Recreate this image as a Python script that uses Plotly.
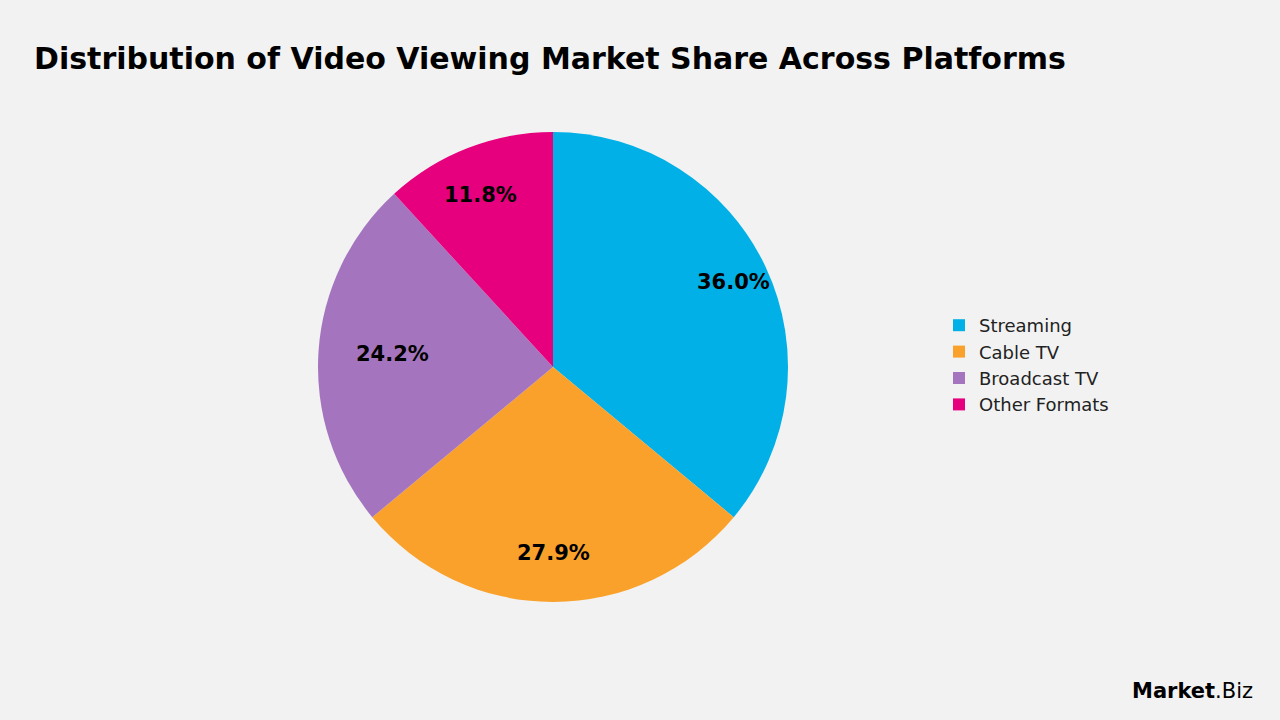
import math
import plotly.graph_objects as go

labels = ["Streaming", "Cable TV", "Broadcast TV", "Other Formats"]
values = [36.0, 27.9, 24.2, 11.8]
colors = ["#00B0E6", "#F9A12A", "#A475BE", "#E6007E"]

W, H = 1280, 720
cx, cy, R = 553, 367, 235
dom_x = [(cx - R) / W, (cx + R) / W]
dom_y = [1 - (cy + R) / H, 1 - (cy - R) / H]

fig = go.Figure(go.Pie(
    labels=labels, values=values, sort=False, direction="clockwise", rotation=0,
    marker=dict(colors=colors, line=dict(width=0)),
    textinfo="none", hoverinfo="label+percent",
    domain=dict(x=dom_x, y=dom_y),
))

total = sum(values)
anns = []
cum = 0
for v in values:
    mid = (cum + v / 2) / total * 2 * math.pi
    cum += v
    px = cx + 0.85 * R * math.sin(mid)
    py = cy - 0.85 * R * math.cos(mid)
    anns.append(dict(text=f"<b>{v / total * 100:.1f}%</b>", x=px / W, y=1 - py / H,
                     xref="paper", yref="paper", showarrow=False,
                     font=dict(size=21, color="black", family="DejaVu Sans")))
anns.append(dict(text="<b>Market</b>.Biz", x=1255 / W, y=1 - 705 / H, xref="paper", yref="paper",
                 xanchor="right", yanchor="bottom", showarrow=False,
                 font=dict(size=21, color="black", family="DejaVu Sans")))

fig.update_layout(
    width=W, height=H, margin=dict(l=0, r=0, t=0, b=0),
    paper_bgcolor="#F2F2F2", plot_bgcolor="#F2F2F2",
    font=dict(family="DejaVu Sans", color="#222"),
    title=dict(text="<b>Distribution of Video Viewing Market Share Across Platforms</b>",
               x=34 / W, xanchor="left", y=1 - 58 / H, yanchor="middle",
               font=dict(size=30, color="black", family="DejaVu Sans")),
    legend=dict(x=939 / W, y=1 - 365 / H, xanchor="left", yanchor="middle",
                font=dict(size=18, color="#222"), itemwidth=30, tracegroupgap=0),
    annotations=anns,
)
fig.write_html("out.html", post_script="document.body.style.margin='0';",
               config={"displayModeBar": False})
